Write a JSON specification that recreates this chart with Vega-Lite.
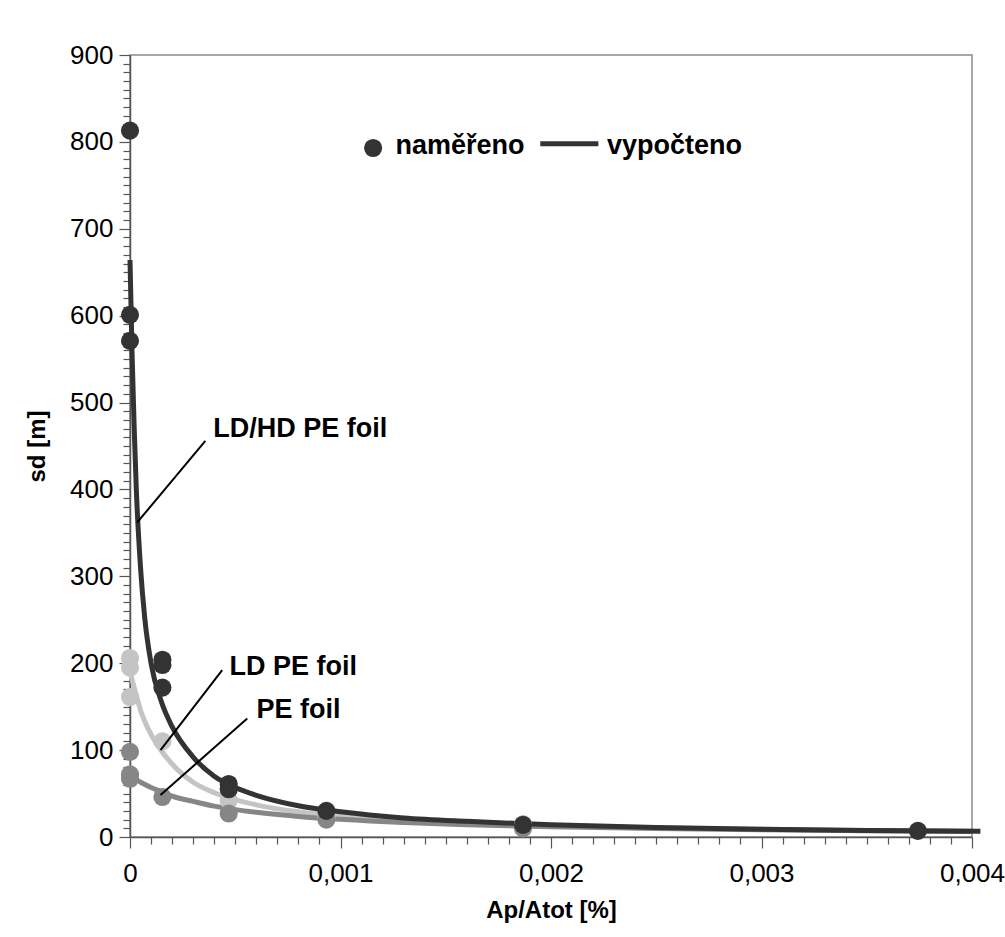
{
  "$schema": "https://vega.github.io/schema/vega-lite/v6.json",
  "autosize": {"type": "none"},
  "width": 842,
  "height": 782,
  "padding": {"left": 130, "top": 55, "right": 33, "bottom": 100},
  "background": "white",
  "config": {
    "view": {"stroke": "#8a8a8a", "strokeWidth": 1.5},
    "font": "Liberation Sans",
    "text": {"font": "Liberation Sans"}
  },
  "datasets": {
    "calc": [
      {"series": "LD PE foil", "x": 0, "y": 190},
      {"series": "LD PE foil", "x": 0.00002, "y": 172},
      {"series": "LD PE foil", "x": 0.00005, "y": 146},
      {"series": "LD PE foil", "x": 0.0001, "y": 118},
      {"series": "LD PE foil", "x": 0.00015, "y": 99},
      {"series": "LD PE foil", "x": 0.0002, "y": 84},
      {"series": "LD PE foil", "x": 0.0003, "y": 63},
      {"series": "LD PE foil", "x": 0.0004, "y": 51},
      {"series": "LD PE foil", "x": 0.0005, "y": 43},
      {"series": "LD PE foil", "x": 0.0006, "y": 37},
      {"series": "LD PE foil", "x": 0.0008, "y": 29},
      {"series": "LD PE foil", "x": 0.001, "y": 24},
      {"series": "LD PE foil", "x": 0.0013, "y": 19},
      {"series": "LD PE foil", "x": 0.0016, "y": 16},
      {"series": "LD PE foil", "x": 0.002, "y": 13},
      {"series": "LD PE foil", "x": 0.0025, "y": 10.5},
      {"series": "LD PE foil", "x": 0.003, "y": 8.8},
      {"series": "LD PE foil", "x": 0.0035, "y": 7.5},
      {"series": "LD PE foil", "x": 0.004, "y": 6.6},
      {"series": "PE foil", "x": 0, "y": 71},
      {"series": "PE foil", "x": 0.00005, "y": 63},
      {"series": "PE foil", "x": 0.0001, "y": 57},
      {"series": "PE foil", "x": 0.00015, "y": 52},
      {"series": "PE foil", "x": 0.0002, "y": 47},
      {"series": "PE foil", "x": 0.0003, "y": 41},
      {"series": "PE foil", "x": 0.0004, "y": 35.5},
      {"series": "PE foil", "x": 0.0005, "y": 31.5},
      {"series": "PE foil", "x": 0.0006, "y": 28.4},
      {"series": "PE foil", "x": 0.0008, "y": 23.7},
      {"series": "PE foil", "x": 0.001, "y": 20.3},
      {"series": "PE foil", "x": 0.0013, "y": 16.6},
      {"series": "PE foil", "x": 0.0016, "y": 14.2},
      {"series": "PE foil", "x": 0.002, "y": 11.8},
      {"series": "PE foil", "x": 0.0025, "y": 9.8},
      {"series": "PE foil", "x": 0.003, "y": 8.3},
      {"series": "PE foil", "x": 0.0035, "y": 7.3},
      {"series": "PE foil", "x": 0.004, "y": 6.4},
      {"series": "LD/HD PE foil", "x": 0, "y": 664},
      {"series": "LD/HD PE foil", "x": 0.00001, "y": 555},
      {"series": "LD/HD PE foil", "x": 0.00002, "y": 470},
      {"series": "LD/HD PE foil", "x": 0.00003, "y": 400},
      {"series": "LD/HD PE foil", "x": 0.00005, "y": 310},
      {"series": "LD/HD PE foil", "x": 0.00007, "y": 252},
      {"series": "LD/HD PE foil", "x": 0.0001, "y": 200},
      {"series": "LD/HD PE foil", "x": 0.00015, "y": 155},
      {"series": "LD/HD PE foil", "x": 0.0002, "y": 127},
      {"series": "LD/HD PE foil", "x": 0.0003, "y": 92},
      {"series": "LD/HD PE foil", "x": 0.0004, "y": 70},
      {"series": "LD/HD PE foil", "x": 0.0005, "y": 57},
      {"series": "LD/HD PE foil", "x": 0.0006, "y": 48},
      {"series": "LD/HD PE foil", "x": 0.0008, "y": 36},
      {"series": "LD/HD PE foil", "x": 0.001, "y": 29},
      {"series": "LD/HD PE foil", "x": 0.0013, "y": 22},
      {"series": "LD/HD PE foil", "x": 0.0016, "y": 18},
      {"series": "LD/HD PE foil", "x": 0.002, "y": 14},
      {"series": "LD/HD PE foil", "x": 0.0025, "y": 11},
      {"series": "LD/HD PE foil", "x": 0.003, "y": 9},
      {"series": "LD/HD PE foil", "x": 0.0035, "y": 7.6},
      {"series": "LD/HD PE foil", "x": 0.00404, "y": 6.6}
    ],
    "meas": [
      {"series": "LD PE foil", "x": 0, "y": 206},
      {"series": "LD PE foil", "x": 0, "y": 195},
      {"series": "LD PE foil", "x": 0, "y": 161},
      {"series": "LD PE foil", "x": 0.000154, "y": 110},
      {"series": "LD PE foil", "x": 0.000469, "y": 42},
      {"series": "LD PE foil", "x": 0.000933, "y": 23},
      {"series": "LD PE foil", "x": 0.001867, "y": 15},
      {"series": "PE foil", "x": 0, "y": 98},
      {"series": "PE foil", "x": 0, "y": 72},
      {"series": "PE foil", "x": 0, "y": 67},
      {"series": "PE foil", "x": 0.000154, "y": 46},
      {"series": "PE foil", "x": 0.000469, "y": 27},
      {"series": "PE foil", "x": 0.000933, "y": 20},
      {"series": "PE foil", "x": 0.001867, "y": 10},
      {"series": "LD/HD PE foil", "x": 0, "y": 813},
      {"series": "LD/HD PE foil", "x": 0, "y": 601},
      {"series": "LD/HD PE foil", "x": 0, "y": 571},
      {"series": "LD/HD PE foil", "x": 0.000154, "y": 204},
      {"series": "LD/HD PE foil", "x": 0.000154, "y": 198},
      {"series": "LD/HD PE foil", "x": 0.000154, "y": 172},
      {"series": "LD/HD PE foil", "x": 0.000469, "y": 61},
      {"series": "LD/HD PE foil", "x": 0.000469, "y": 55},
      {"series": "LD/HD PE foil", "x": 0.000933, "y": 30},
      {"series": "LD/HD PE foil", "x": 0.001867, "y": 14},
      {"series": "LD/HD PE foil", "x": 0.003743, "y": 7}
    ],
    "leaders": [
      {"x": 0.000358, "y": 456, "x2": 0.0000342, "y2": 362},
      {"x": 0.000438, "y": 192, "x2": 0.000145, "y2": 100},
      {"x": 0.000557, "y": 136.4, "x2": 0.000145, "y2": 48.3}
    ],
    "labels": [
      {"x": 0.000396, "y": 460, "label": "LD/HD PE foil"},
      {"x": 0.000473, "y": 186, "label": "LD PE foil"},
      {"x": 0.000601, "y": 137, "label": "PE foil"}
    ],
    "legendText": [
      {"x": 0.001261, "y": 786, "label": "naměřeno"},
      {"x": 0.002266, "y": 786, "label": "vypočteno"}
    ],
    "legendDot": [{"x": 0.001155, "y": 793}],
    "legendLine": [{"x": 0.001949, "x2": 0.002225, "y": 798}]
  },
  "encoding": {
    "x": {
      "field": "x", "type": "quantitative",
      "scale": {"domain": [0, 0.004], "nice": false, "zero": false},
      "axis": {
        "title": "Ap/Atot [%]",
        "titleFont": "Liberation Sans", "titleFontSize": 24, "titleFontWeight": "bold", "titleColor": "black",
        "titlePadding": 12,
        "values": [0,0.0001,0.0002,0.0003,0.0004,0.0005,0.0006,0.0007,0.0008,0.0009,0.001,0.0011,0.0012,0.0013,0.0014,0.0015,0.0016,0.0017,0.0018,0.0019,0.002,0.0021,0.0022,0.0023,0.0024,0.0025,0.0026,0.0027,0.0028,0.0029,0.003,0.0031,0.0032,0.0033,0.0034,0.0035,0.0036,0.0037,0.0038,0.0039,0.004],
        "labelExpr": "abs(datum.value*1000 - round(datum.value*1000)) < 1e-6 ? (datum.value == 0 ? '0' : replace(format(datum.value, '.3f'), '.', ',')) : ''",
        "tickSize": {"condition": {"test": "abs(datum.value*1000 - round(datum.value*1000)) < 1e-6", "value": 11}, "value": 7},
        "labelFont": "Liberation Sans", "labelFontSize": 26, "labelColor": "black",
        "labelPadding": 12, "labelOverlap": false, "labelBound": false, "labelFlush": false,
        "grid": false, "domainColor": "#555555", "domainWidth": 1.5, "tickColor": "#555555", "tickWidth": 1.2
      }
    },
    "y": {
      "field": "y", "type": "quantitative",
      "scale": {"domain": [0, 900], "nice": false},
      "axis": {
        "title": "sd [m]",
        "titleFont": "Liberation Sans", "titleFontSize": 24, "titleFontWeight": "bold", "titleColor": "black",
        "titlePadding": 20,
        "values": [0,10,20,30,40,50,60,70,80,90,100,110,120,130,140,150,160,170,180,190,200,210,220,230,240,250,260,270,280,290,300,310,320,330,340,350,360,370,380,390,400,410,420,430,440,450,460,470,480,490,500,510,520,530,540,550,560,570,580,590,600,610,620,630,640,650,660,670,680,690,700,710,720,730,740,750,760,770,780,790,800,810,820,830,840,850,860,870,880,890,900],
        "labelExpr": "datum.value % 100 == 0 ? datum.label : ''",
        "tickSize": {"condition": {"test": "datum.value % 100 == 0", "value": 11}, "value": 7},
        "labelFont": "Liberation Sans", "labelFontSize": 26, "labelColor": "black",
        "labelPadding": 6, "labelOverlap": false, "labelBound": false, "labelFlush": false,
        "grid": false, "domainColor": "#555555", "domainWidth": 1.5, "tickColor": "#555555", "tickWidth": 1.2
      }
    }
  },
  "layer": [
    {
      "data": {"name": "calc"},
      "mark": {"type": "line", "strokeWidth": 5, "interpolate": "monotone"},
      "encoding": {
        "color": {"field": "series", "type": "nominal",
          "scale": {"domain": ["LD PE foil", "PE foil", "LD/HD PE foil"], "range": ["#c4c4c4", "#868686", "#333333"]},
          "legend": null}
      }
    },
    {
      "data": {"name": "meas"},
      "mark": {"type": "point", "shape": "circle", "filled": true, "opacity": 1, "size": 330},
      "encoding": {
        "color": {"field": "series", "type": "nominal",
          "scale": {"domain": ["LD PE foil", "PE foil", "LD/HD PE foil"], "range": ["#c4c4c4", "#868686", "#333333"]},
          "legend": null}
      }
    },
    {
      "data": {"name": "leaders"},
      "mark": {"type": "rule", "color": "black", "strokeWidth": 2},
      "encoding": {"x2": {"field": "x2"}, "y2": {"field": "y2"}}
    },
    {
      "data": {"name": "labels"},
      "mark": {"type": "text", "align": "left", "baseline": "alphabetic", "fontSize": 27, "fontWeight": "bold", "color": "black", "font": "Liberation Sans"},
      "encoding": {"text": {"field": "label"}}
    },
    {
      "data": {"name": "legendText"},
      "mark": {"type": "text", "align": "left", "baseline": "alphabetic", "fontSize": 27, "fontWeight": "bold", "color": "black", "font": "Liberation Sans"},
      "encoding": {"text": {"field": "label"}}
    },
    {
      "data": {"name": "legendDot"},
      "mark": {"type": "point", "shape": "circle", "filled": true, "opacity": 1, "size": 330, "color": "#333333"},
      "encoding": {}
    },
    {
      "data": {"name": "legendLine"},
      "mark": {"type": "rule", "color": "#333333", "strokeWidth": 5},
      "encoding": {"x2": {"field": "x2"}}
    }
  ]
}
